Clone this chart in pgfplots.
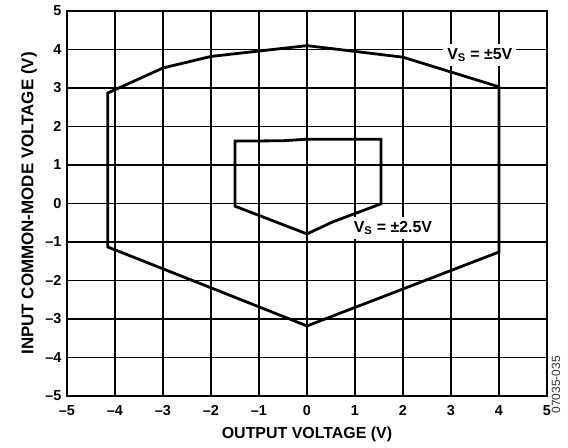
\documentclass[border=0pt]{standalone}
\usepackage{fontspec}
\setmainfont{Liberation Sans}
\usepackage{pgfplots}
\pgfplotsset{compat=1.18}
\begin{document}
\begin{tikzpicture}
\path[use as bounding box] (-67bp,-52bp) rectangle (501bp,396bp);
\begin{axis}[
  scale only axis,
  width=480bp, height=385bp,
  at={(0,0)}, anchor=south west,
  xmin=-5, xmax=5, ymin=-5, ymax=5,
  xtick={-5,...,5}, ytick={-5,...,5},
  xticklabels={–5,–4,–3,–2,–1,0,1,2,3,4,5},
  yticklabels={–5,–4,–3,–2,–1,0,1,2,3,4,5},
  major tick length=0pt,
  grid=major,
  grid style={black, line width=1.1pt},
  axis line style={black, line width=1.5pt},
  tick label style={font=\fontsize{14.5}{16}\selectfont\bfseries},
  xticklabel style={yshift=-6bp},
  yticklabel style={xshift=-2bp},
  xlabel={OUTPUT VOLTAGE (V)},
  ylabel={INPUT COMMON-MODE VOLTAGE (V)},
  xlabel style={font=\fontsize{16}{18}\selectfont\bfseries, at={(axis description cs:0.5,0)}, anchor=center, yshift=-38bp},
  ylabel style={font=\fontsize{17}{19}\selectfont\bfseries, at={(axis description cs:0,0.5)}, anchor=center, yshift=38bp},
  clip=false,
]
\addplot[black, line width=2.8pt, line join=miter] coordinates {
  (-4.15,2.87) (-3.0,3.52) (-2.0,3.82) (0,4.1) (2.0,3.8) (4.0,3.03)
  (4.0,-1.26) (2.0,-2.22) (0,-3.18) (-2.0,-2.19) (-4.15,-1.13) (-4.15,2.87)
} -- cycle;
\addplot[black, line width=2.8pt, line join=miter] coordinates {
  (-1.5,1.62) (-0.5,1.63) (0,1.67) (1.54,1.67) (1.54,-0.01)
  (0.55,-0.47) (0,-0.79) (-1.5,-0.07) (-1.5,1.62)
} -- cycle;
\node[fill=white, inner sep=4bp, font=\fontsize{16}{18}\selectfont\bfseries] at (axis cs:3.6,3.86) {V\textsubscript{S} = ±5V};
\node[fill=white, inner sep=4bp, font=\fontsize{16}{18}\selectfont\bfseries] at (axis cs:1.79,-0.64) {V\textsubscript{S} = ±2.5V};
\node[rotate=90, anchor=center, text=black!80, font=\fontsize{12}{13}\selectfont] at (axis cs:5.19,-4.71) {07035-035};
\end{axis}
\end{tikzpicture}
\end{document}
